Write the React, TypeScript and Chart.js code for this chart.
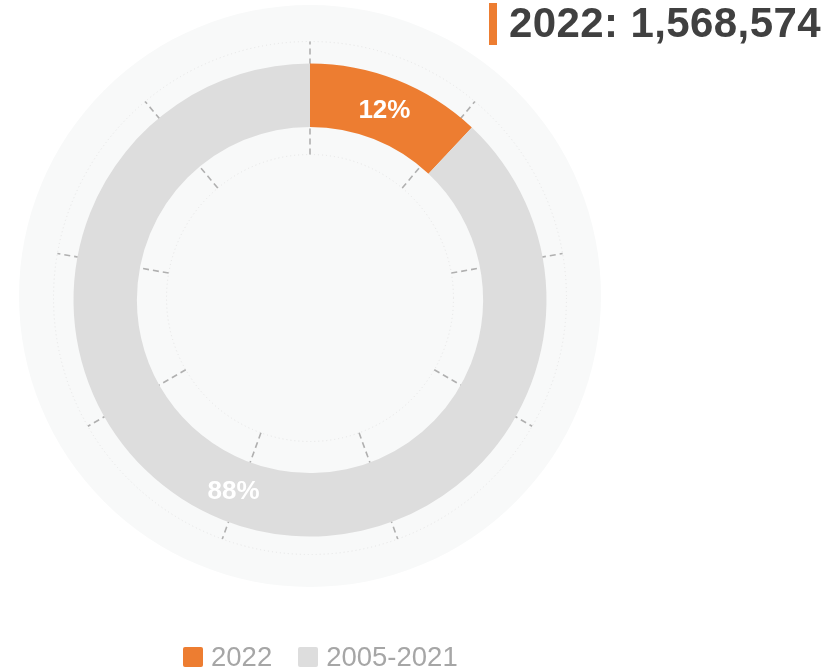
import React, { useEffect, useRef } from "react";
import { Chart, registerables } from "chart.js";

Chart.register(...registerables);

const CATEGORIES = ["2022", "2005-2021"];
const VALUES = [1568574, 11502876];
const COLORS = ["#ED7D31", "#DDDDDD"];
const PERCENT_LABELS = ["12%", "88%"];
const TITLE_YEAR = "2022";
const TITLE_VALUE = "1,568,574";
const GUIDE_COUNT = 9;

const decorPlugin = {
  id: "decor",
  beforeDatasetsDraw(chart: any) {
    const meta = chart.getDatasetMeta(0);
    const arc = meta.data[0];
    if (!arc) return;
    const { x, y, outerRadius } = arc.getProps(["x", "y", "outerRadius"], true);
    const ctx = chart.ctx;
    ctx.save();
    // background disc
    ctx.beginPath();
    ctx.arc(x, y - 4, outerRadius + 54.5, 0, Math.PI * 2);
    ctx.fillStyle = "#F8F9F9";
    ctx.fill();
    // dotted guide circles
    const gy = y - 2;
    const rIn = outerRadius - 93;
    const rOut = outerRadius + 20;
    ctx.setLineDash([1, 3]);
    ctx.strokeStyle = "#E6E6E6";
    ctx.lineWidth = 1;
    [rIn, rOut].forEach((r) => {
      ctx.beginPath();
      ctx.arc(x, gy, r, 0, Math.PI * 2);
      ctx.stroke();
    });
    // dashed radial guides
    ctx.setLineDash([6, 4]);
    ctx.strokeStyle = "#B0B0B0";
    ctx.lineWidth = 1.6;
    for (let i = 0; i < GUIDE_COUNT; i++) {
      const a = -Math.PI / 2 + (i * 2 * Math.PI) / GUIDE_COUNT;
      ctx.beginPath();
      ctx.moveTo(x + rIn * Math.cos(a), gy + rIn * Math.sin(a));
      ctx.lineTo(x + rOut * Math.cos(a), gy + rOut * Math.sin(a));
      ctx.stroke();
    }
    ctx.restore();
  },
  afterDatasetsDraw(chart: any) {
    const meta = chart.getDatasetMeta(0);
    const ctx = chart.ctx;
    ctx.save();
    ctx.fillStyle = "#FFFFFF";
    ctx.font = "bold 26px 'Liberation Sans', Arial, sans-serif";
    ctx.textAlign = "center";
    ctx.textBaseline = "middle";
    meta.data.forEach((el: any, i: number) => {
      const p = el.tooltipPosition();
      ctx.fillText(PERCENT_LABELS[i], p.x - 1, p.y + 1);
    });
    ctx.restore();
  },
};

export default function App() {
  const ref = useRef<HTMLCanvasElement>(null);
  useEffect(() => {
    if (!ref.current) return;
    const chart = new Chart(ref.current, {
      type: "doughnut",
      data: {
        labels: CATEGORIES,
        datasets: [
          {
            data: VALUES,
            backgroundColor: COLORS,
            borderWidth: 0,
          },
        ],
      },
      options: {
        animation: false,
        responsive: false,
        radius: 236.5,
        cutout: "73.2%",
        layout: { padding: { left: 0, right: 219, top: 0, bottom: 20 } },
        plugins: {
          legend: { display: false },
          tooltip: { enabled: false },
        },
      },
      plugins: [decorPlugin],
    });
    return () => chart.destroy();
  }, []);

  const font = "'Liberation Sans', Arial, sans-serif";
  return (
    <div style={{ position: "fixed", left: 0, top: 0, width: 839, height: 672, background: "#fff", fontFamily: font }}>
      <canvas ref={ref} width={839} height={620} style={{ position: "absolute", left: 0, top: 0, width: 839, height: 620 }} />
      <div style={{ position: "absolute", left: 489, top: 3, width: 8, height: 42, background: COLORS[0] }} />
      <div
        style={{
          position: "absolute",
          left: 509,
          top: -1,
          fontSize: 42,
          fontWeight: "bold",
          color: "#404040",
          lineHeight: "48px",
          letterSpacing: 0.4,
          whiteSpace: "nowrap",
        }}
      >
        {TITLE_YEAR}: {TITLE_VALUE}
      </div>
      <div style={{ position: "absolute", left: 183, top: 641, display: "flex", alignItems: "center", whiteSpace: "nowrap" }}>
        {CATEGORIES.map((c, i) => (
          <div key={c} style={{ display: "flex", alignItems: "center", marginRight: 26 }}>
            <div style={{ width: 20, height: 20, background: COLORS[i], borderRadius: 2, marginRight: 8 }} />
            <span style={{ fontSize: 27.5, color: "#A6A6A6", lineHeight: "32px" }}>{c}</span>
          </div>
        ))}
      </div>
    </div>
  );
}
